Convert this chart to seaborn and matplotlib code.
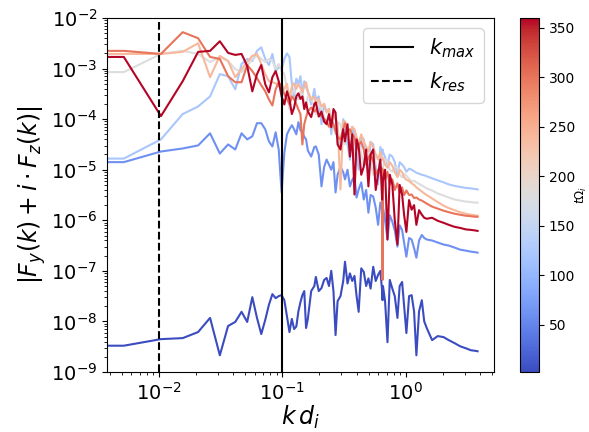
import matplotlib
matplotlib.use("Agg")
import matplotlib.pyplot as plt
import numpy as np
import pandas as pd
import seaborn as sns
from matplotlib.colors import Normalize
from matplotlib.cm import ScalarMappable

# ── data: Fourier mode index n (k = n * dk), log10 |Fy + i Fz| per time ──
dk = 0.0052
mode_n = [0, 1, 2, 3, 4, 5, 6, 7, 8, 9, 10, 11, 12, 13, 14, 15, 16, 17, 18, 19, 20,
          21, 22, 23, 24, 25, 26, 27, 28, 29, 30, 31,
          33, 35, 36, 38, 40, 42, 44, 46, 48, 50,
          52, 54, 57, 60, 62, 65, 68, 71, 74, 77,
          80, 84, 88, 92, 96, 100, 105, 110, 115, 120,
          124, 125, 126,
          131, 137, 143, 150, 157, 165, 172, 180, 187, 195,
          205, 215, 225, 235, 247, 260, 272, 285,
          315, 350, 390, 430, 480, 530, 590, 650, 700, 736]

times = [2.5, 60, 120, 180, 240, 300, 360]

logF_t0 = [-8.48, -8.48, -8.35, -8.33, -8.21, -7.93, -8.67, -8.09, -8.01, -7.81, -8.01,
           -7.52, -7.93, -8.25, -7.97, -7.67, -7.46, -7.54, -7.50, -7.48, -7.58,
           -7.90, -8.21, -7.95, -8.15, -8.10, -7.80, -7.62, -7.48, -7.40, -8.13, -7.95,
           -7.40, -7.30, -7.12, -7.40, -7.34, -7.18, -7.14, -7.30, -7.00, -7.40,
           -8.27, -7.60, -7.50, -7.20, -6.82, -7.25, -7.05, -7.20, -7.10, -7.50,
           -7.81, -6.95, -7.02, -7.30, -7.15, -7.35, -6.92, -7.20, -7.08, -7.00,
           -7.40, -7.58, -7.30,
           -7.60, -8.41, -7.18, -7.35, -7.50, -7.93, -7.30, -7.22, -7.70, -8.23,
           -7.50, -7.48, -7.80, -8.67, -7.80, -7.58, -8.00, -8.13,
           -8.37, -8.29, -8.31, -8.37, -8.43, -8.49, -8.53, -8.57, -8.58, -8.59]
logF_t60 = [-4.85, -4.85, -4.64, -4.58, -4.52, -4.28, -4.68, -4.50, -4.60, -4.28, -4.40,
            -4.34, -4.08, -4.08, -4.20, -4.44, -4.54, -4.26, -4.60, -5.45, -4.66,
            -4.30, -4.20, -4.12, -4.20, -4.30, -4.06, -4.22, -4.26, -4.35, -4.40, -4.62,
            -4.74, -4.55, -4.54, -4.70, -5.33, -4.95, -4.80, -4.90, -5.00, -4.85,
            -5.45, -5.10, -4.94, -5.05, -5.19, -5.00, -5.33, -5.20, -5.13, -5.55,
            -5.39, -5.25, -5.59, -5.40, -5.85, -5.50, -5.53, -5.75, -6.09, -5.65,
            -5.80, -5.69, -5.75,
            -6.00, -6.38, -5.90, -6.03, -6.20, -6.52, -6.10, -6.19, -6.45, -6.72,
            -6.35, -6.38, -6.55, -6.74, -6.40, -6.29, -6.35, -6.38,
            -6.40, -6.44, -6.48, -6.50, -6.54, -6.58, -6.60, -6.62, -6.63, -6.64]
logF_t120 = [-4.78, -4.78, -4.40, -3.90, -3.75, -3.55, -3.11, -3.15, -3.41, -2.91, -2.81,
             -2.85, -2.65, -2.58, -2.81, -2.93, -2.71, -3.05, -2.97, -3.01, -2.81,
             -2.70, -2.77, -3.30, -3.61, -3.20, -3.31, -3.15, -3.51, -3.25, -3.37, -3.45,
             -3.71, -3.40, -3.61, -3.55, -4.10, -3.70, -3.85, -3.80, -4.30, -3.85,
             -3.96, -4.20, -4.60, -4.00, -4.10, -4.50, -4.80, -4.15, -4.30, -4.70,
             -5.00, -4.35, -4.40, -4.80, -5.10, -4.45, -4.50, -4.95, -5.29, -4.55,
             -4.70, -4.60, -4.65,
             -4.75, -4.90, -4.70, -4.74, -4.85, -5.10, -4.85, -4.90, -4.95, -5.04,
             -4.98, -5.00, -5.03, -5.06, -5.08, -5.10, -5.11, -5.13,
             -5.17, -5.21, -5.25, -5.29, -5.32, -5.34, -5.36, -5.37, -5.38, -5.39]
logF_t180 = [-3.07, -3.07, -2.71, -2.65, -2.71, -2.87, -2.77, -2.85, -3.01, -3.07, -2.95,
             -2.81, -2.75, -2.81, -2.87, -2.81, -2.85, -3.01, -2.91, -3.05, -3.11,
             -3.40, -3.81, -3.50, -3.41, -3.55, -3.61, -3.45, -3.51, -3.65, -3.71, -3.55,
             -3.61, -3.75, -3.90, -3.70, -3.81, -3.95, -4.10, -3.90, -3.96, -4.15,
             -4.30, -4.05, -4.10, -4.35, -4.50, -4.20, -4.30, -4.55, -4.70, -4.40,
             -4.44, -4.70, -4.90, -4.55, -4.60, -4.85, -5.10, -4.70, -4.74, -4.95,
             -5.00, -5.19, -4.95,
             -4.80, -4.84, -5.00, -5.04, -4.95, -4.96, -5.10, -5.15, -5.08, -5.12,
             -5.18, -5.23, -5.22, -5.25, -5.28, -5.31, -5.34, -5.37,
             -5.41, -5.47, -5.51, -5.55, -5.59, -5.61, -5.63, -5.64, -5.65, -5.65]
logF_t240 = [-2.71, -2.71, -2.71, -2.67, -2.50, -3.17, -2.75, -2.85, -3.17, -3.01, -2.87,
             -2.75, -2.71, -2.91, -3.11, -3.25, -3.27, -3.29, -3.35, -3.31, -3.41,
             -3.30, -3.61, -3.35, -3.29, -3.40, -3.31, -3.38, -3.47, -3.35, -3.27, -3.45,
             -3.61, -3.55, -3.71, -3.60, -3.75, -3.70, -3.87, -3.80, -4.16, -3.90,
             -4.00, -4.10, -5.39, -4.05, -4.04, -4.20, -4.30, -4.15, -4.20, -4.35,
             -4.50, -4.30, -4.44, -4.55, -4.64, -4.45, -4.56, -4.70, -4.80, -4.65,
             -4.80, -4.76, -4.78,
             -4.90, -4.96, -4.85, -4.92, -5.05, -5.15, -5.00, -5.05, -5.15, -5.20,
             -5.22, -5.27, -5.30, -5.35, -5.39, -5.43, -5.47, -5.50,
             -5.57, -5.64, -5.71, -5.76, -5.80, -5.84, -5.87, -5.89, -5.90, -5.91]
logF_t300 = [-2.65, -2.65, -2.71, -2.28, -2.40, -2.77, -2.81, -3.15, -3.27, -3.27, -2.93,
             -3.05, -3.19, -3.33, -3.45, -3.61, -3.73, -3.41, -3.27, -3.35, -3.51,
             -3.60, -3.71, -3.55, -3.61, -3.70, -3.81, -3.90, -4.50, -4.10, -3.96, -3.85,
             -3.77, -3.85, -3.81, -3.90, -3.94, -4.00, -4.04, -4.15, -4.00, -4.10,
             -4.24, -4.35, -4.40, -4.20, -4.08, -4.25, -4.20, -4.30, -4.36, -4.60,
             -4.50, -4.45, -4.60, -4.90, -4.76, -4.70, -4.84, -5.10, -5.00, -4.95,
             -4.98, -7.18, -5.00,
             -5.20, -5.04, -5.30, -5.19, -5.40, -5.27, -5.45, -5.35, -5.50, -5.41,
             -5.50, -5.49, -5.56, -5.55, -5.59, -5.61, -5.64, -5.67,
             -5.73, -5.77, -5.81, -5.84, -5.87, -5.89, -5.91, -5.92, -5.93, -5.93]
logF_t360 = [-2.77, -2.77, -3.94, -3.25, -2.67, -2.65, -2.46, -2.69, -2.73, -2.71, -2.95,
             -3.45, -3.11, -2.93, -3.31, -3.47, -3.17, -3.05, -3.25, -3.55, -3.71,
             -3.45, -3.61, -3.90, -3.77, -3.55, -3.49, -3.60, -3.55, -3.80, -3.67, -3.85,
             -3.96, -3.70, -3.67, -3.95, -3.85, -4.05, -4.10, -3.90, -4.16, -3.80,
             -3.87, -4.50, -4.60, -4.20, -4.44, -4.10, -4.74, -4.30, -5.49, -4.40,
             -4.54, -5.10, -4.94, -4.60, -5.33, -4.70, -4.60, -5.40, -5.10, -4.80,
             -5.59, -5.39, -5.19,
             -5.00, -6.38, -5.10, -5.29, -6.00, -6.48, -5.30, -5.49, -5.90, -6.23,
             -5.60, -5.79, -5.70, -6.09, -5.80, -5.89, -5.95, -5.97,
             -5.95, -6.01, -6.05, -6.09, -6.13, -6.15, -6.18, -6.19, -6.20, -6.21]

k_max = 0.1
k_res = 0.01

# ── long-form table ──
series = [logF_t0, logF_t60, logF_t120, logF_t180, logF_t240, logF_t300, logF_t360]
k = np.array(mode_n) * dk
frames = []
for t, v in zip(times, series):
    assert len(v) == len(mode_n), (t, len(v))
    frames.append(pd.DataFrame({"k": k, "F": 10.0 ** np.array(v), "t": t}))
df = pd.concat(frames, ignore_index=True)

fig = plt.figure(figsize=(5.89, 4.32), dpi=100)
ax = fig.add_axes([107 / 589, 60 / 432, 387 / 589, 354 / 432])
cax = fig.add_axes([520 / 589, 60 / 432, 19 / 589, 354 / 432])

norm = Normalize(vmin=min(times), vmax=max(times))
sns.lineplot(data=df, x="k", y="F", hue="t", palette="coolwarm", hue_norm=norm,
             units="t", estimator=None, legend=False, lw=1.5, ax=ax)

ax.axvline(k_max, color="k", lw=1.5, ls="-", label=r"$k_{max}$", zorder=5)
ax.axvline(k_res, color="k", lw=1.5, ls="--", label=r"$k_{res}$", zorder=5)

ax.set_xscale("log")
ax.set_yscale("log")
ax.set_xlim(0.0038, 5.2)
ax.set_ylim(1e-9, 1e-2)
ax.set_xlabel(r"$k\,d_i$", fontsize=17, labelpad=0)
ax.set_ylabel(r"$|F_y(k) + i \cdot F_z(k)|$", fontsize=17, labelpad=2)
ax.tick_params(axis="both", which="major", labelsize=14)
ax.legend(loc="upper right", fontsize=15)

sm = ScalarMappable(norm=norm, cmap="coolwarm")
cb = fig.colorbar(sm, cax=cax)
cb.set_ticks([50, 100, 150, 200, 250, 300, 350])
cb.ax.tick_params(labelsize=10)
cb.set_label(r"$t\Omega_i$", fontsize=8.5, labelpad=-1)

plt.savefig("out.png", dpi=100)
plt.close()
